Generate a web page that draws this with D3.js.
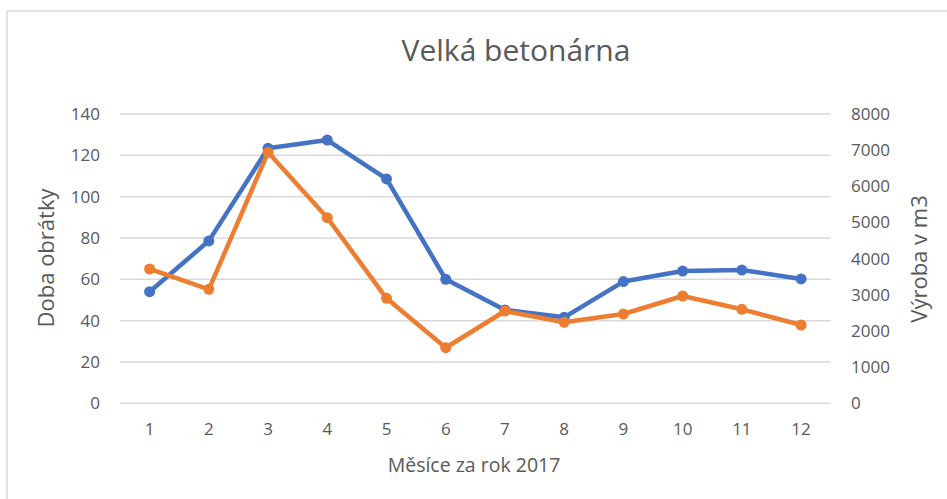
<!DOCTYPE html>
<html>
<head>
<meta charset="utf-8">
<script src="https://cdn.jsdelivr.net/npm/d3@7"></script>
<style>
  body { margin: 0; background: #fff; }
  text { font-family: "Open Sans", "DejaVu Sans", sans-serif; fill: #595959; }
</style>
</head>
<body>
<svg id="main_chart" width="947" height="499"></svg>
<script>
// data
let months = ["1","2","3","4","5","6","7","8","9","10","11","12"];
let dobaObratky = [54.0, 78.6, 123.4, 127.4, 108.6, 60.0, 45.2, 41.6, 58.9, 64.0, 64.5, 60.2];
let vyroba = [3714, 3152, 6940, 5132, 2903, 1537, 2552, 2240, 2469, 2967, 2599, 2165];
let leftTicks = [0, 20, 40, 60, 80, 100, 120, 140];
let rightTicks = [0, 1000, 2000, 3000, 4000, 5000, 6000, 7000, 8000];

let svg = d3.select("#main_chart");

// chart border (only top/left are visible in the frame)
svg.append("rect")
    .attr("x", 7).attr("y", 11)
    .attr("width", 960).attr("height", 520)
    .attr("fill", "none")
    .attr("stroke", "#d9d9d9")
    .attr("stroke-width", 1.5);

let xScale = d3.scaleBand()
    .domain(months)
    .range([120, 830.7])
    .padding(0);

let yLeft = d3.scaleLinear()
    .domain([0, 140])
    .range([403.3, 114]);

let yRight = d3.scaleLinear()
    .domain([0, 8000])
    .range([403.3, 114]);

// gridlines
svg.append("g")
    .selectAll("line")
    .data(leftTicks)
    .enter().append("line")
    .attr("x1", 120).attr("x2", 830.7)
    .attr("y1", d => yLeft(d)).attr("y2", d => yLeft(d))
    .attr("stroke", "#d9d9d9")
    .attr("stroke-width", 1.5);

// left axis
let leftAxis = svg.append("g")
    .attr("transform", "translate(100,0)")
    .call(d3.axisLeft(yLeft).tickValues(leftTicks).tickSize(0).tickPadding(0));
leftAxis.select(".domain").remove();
leftAxis.selectAll("text").style("font-size", "17px").attr("fill", "#595959").attr("font-family", null);

// right axis
let rightAxis = svg.append("g")
    .attr("transform", "translate(851,0)")
    .call(d3.axisRight(yRight).tickValues(rightTicks).tickFormat(d3.format("d")).tickSize(0).tickPadding(0));
rightAxis.select(".domain").remove();
rightAxis.selectAll("text").style("font-size", "17px").attr("fill", "#595959").attr("font-family", null);

// bottom axis
let bottomAxis = svg.append("g")
    .attr("transform", "translate(0,403.3)")
    .call(d3.axisBottom(xScale).tickSize(0).tickPadding(20));
bottomAxis.select(".domain").remove();
bottomAxis.selectAll("text").style("font-size", "17px").attr("fill", "#595959").attr("font-family", null);

let cx = d => xScale(d) + xScale.bandwidth() / 2;

function drawSeries(values, yScale, color) {
    let line = d3.line()
        .x((d, i) => cx(months[i]))
        .y(d => yScale(d));
    svg.append("path")
        .datum(values)
        .attr("d", line)
        .attr("fill", "none")
        .attr("stroke", color)
        .attr("stroke-width", 4.5)
        .attr("stroke-linejoin", "round")
        .attr("stroke-linecap", "round");
    svg.append("g")
        .selectAll("circle")
        .data(values)
        .enter().append("circle")
        .attr("cx", (d, i) => cx(months[i]))
        .attr("cy", d => yScale(d))
        .attr("r", 5.5)
        .attr("fill", color);
}

drawSeries(dobaObratky, yLeft, "#4472c4");
drawSeries(vyroba, yRight, "#ed7d31");

// titles
svg.append("text")
    .attr("x", 516).attr("y", 61)
    .attr("text-anchor", "middle")
    .style("font-size", "30px")
    .text("Velká betonárna");

svg.append("text")
    .attr("x", 474).attr("y", 472)
    .attr("text-anchor", "middle")
    .style("font-size", "19.5px")
    .text("Měsíce za rok 2017");

svg.append("text")
    .attr("transform", "translate(54,258) rotate(-90)")
    .attr("text-anchor", "middle")
    .style("font-size", "22px")
    .text("Doba obrátky");

svg.append("text")
    .attr("transform", "translate(927,259) rotate(-90)")
    .attr("text-anchor", "middle")
    .style("font-size", "22px")
    .text("Výroba v m3");
</script>
</body>
</html>
